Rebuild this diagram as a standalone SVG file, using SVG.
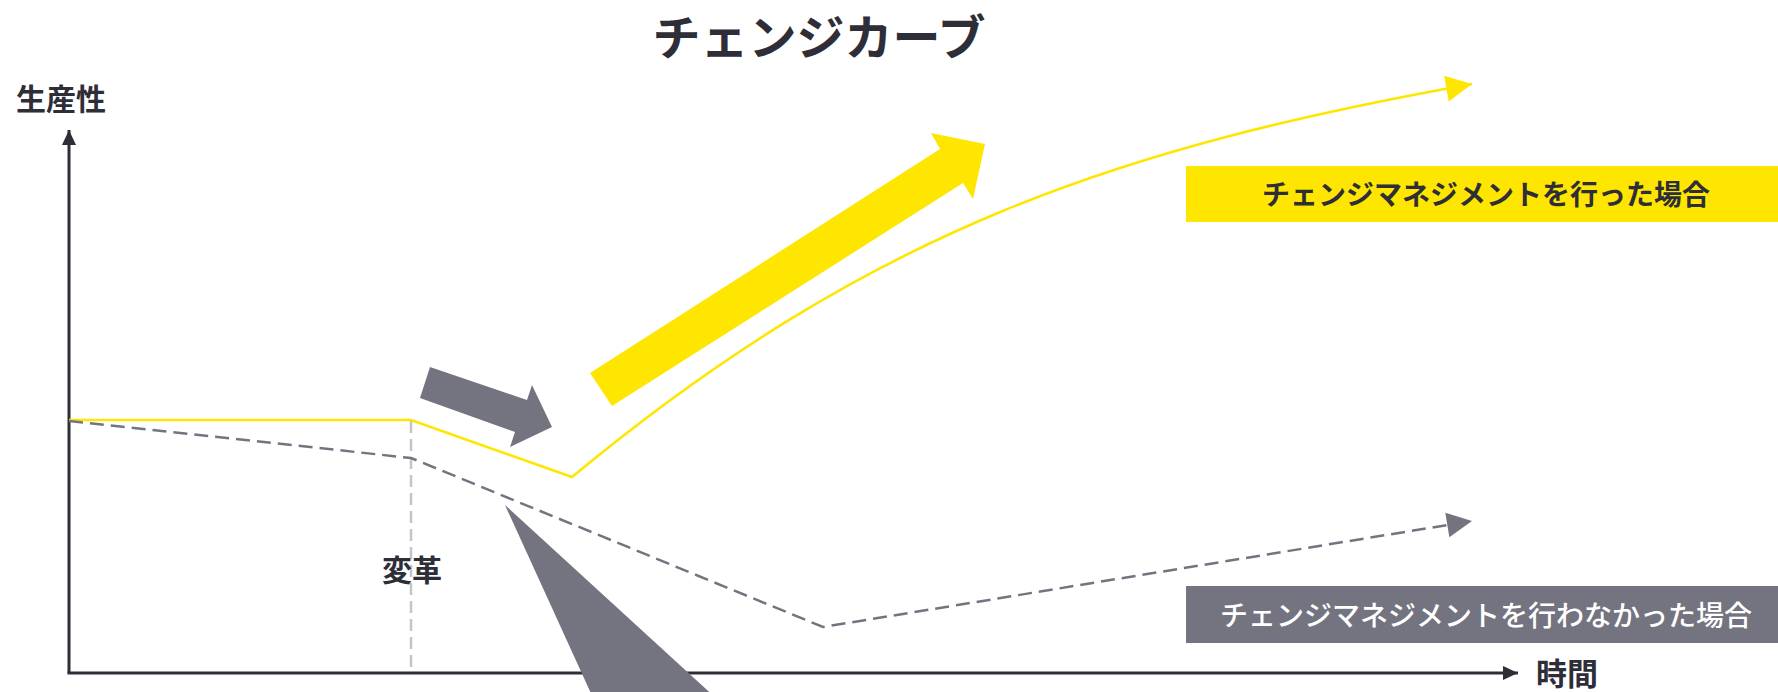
<svg xmlns="http://www.w3.org/2000/svg" width="1778" height="692" viewBox="0 0 1778 692">
  <style>
    .t { font-family: "Noto Sans CJK JP", "Noto Sans", sans-serif; fill: #2E2E38; }
    .b { font-weight: 700; }
    .axis { stroke: #2E2E38; stroke-width: 3; fill: none; }
    .yl { stroke: #FFE600; stroke-width: 2.5; fill: none; }
    .gd { stroke: #747480; stroke-width: 2.5; fill: none; stroke-dasharray: 14 7; }
    .vd { stroke: #C4C4CD; stroke-width: 2.5; fill: none; stroke-dasharray: 12 6; }
  </style>
  <defs>
    <marker id="axHead" markerUnits="userSpaceOnUse" markerWidth="15" markerHeight="14" refX="15" refY="7" orient="auto" overflow="visible">
      <path d="M0,0 L15,7 L0,14 z" fill="#2E2E38"/>
    </marker>
    <marker id="yHead" markerUnits="userSpaceOnUse" markerWidth="26" markerHeight="26" refX="26" refY="13" orient="auto" overflow="visible">
      <path d="M0,0 L26,13 L0,26 z" fill="#FFE600"/>
    </marker>
    <marker id="gHead" markerUnits="userSpaceOnUse" markerWidth="25" markerHeight="25" refX="25" refY="12.5" orient="auto" overflow="visible">
      <path d="M0,0 L25,12.5 L0,25 z" fill="#747480"/>
    </marker>
  </defs>
  <rect width="1778" height="692" fill="#FFFFFF"/>

  <g id="title">
    <text class="t b" x="819" y="55" font-size="48" text-anchor="middle">チェンジカーブ</text>
  </g>

  <g id="axes">
    <line class="axis" x1="69" y1="673" x2="69" y2="130" marker-end="url(#axHead)"/>
    <line class="axis" x1="67.5" y1="673" x2="1518" y2="673" marker-end="url(#axHead)"/>
    <text class="t b" x="16" y="110" font-size="30">生産性</text>
    <text class="t b" x="1536" y="685" font-size="31">時間</text>
  </g>

  <g id="change-marker">
    <line class="vd" x1="411" y1="421" x2="411" y2="673"/>
    <text class="t b" x="412" y="581" font-size="30" text-anchor="middle">変革</text>
  </g>

  <g id="connectors">
    <path id="curve-with" class="yl" d="M69,420 L411,420 L572,477 C872,228 1122,147 1472,84" marker-end="url(#yHead)"/>
    <path id="curve-without" class="gd" d="M69,421 L411,458 L823,627 L1472,521" marker-end="url(#gHead)"/>
  </g>

  <g id="arrows">
    <polygon id="big-yellow-arrow" fill="#FFE600" points="590,373 940,149 931,133 985,144 973,199 963,183 612,406"/>
    <polygon id="gray-dip-arrow" fill="#747480" points="430,367 527,400 532,385 552,427 510,447 515,432 420,398"/>
    <polygon id="gray-wedge" fill="#747480" points="505,505 718,700 594,700"/>
  </g>

  <g id="label-with">
    <rect x="1186" y="166" width="592" height="56" fill="#FFE600"/>
    <text class="t b" x="1486" y="205" font-size="28" text-anchor="middle">チェンジマネジメントを行った場合</text>
  </g>

  <g id="label-without">
    <rect x="1186" y="586" width="592" height="57" fill="#747480"/>
    <text class="t" x="1486" y="626" font-size="28" font-weight="500" text-anchor="middle" style="fill:#FFFFFF">チェンジマネジメントを行わなかった場合</text>
  </g>
</svg>
